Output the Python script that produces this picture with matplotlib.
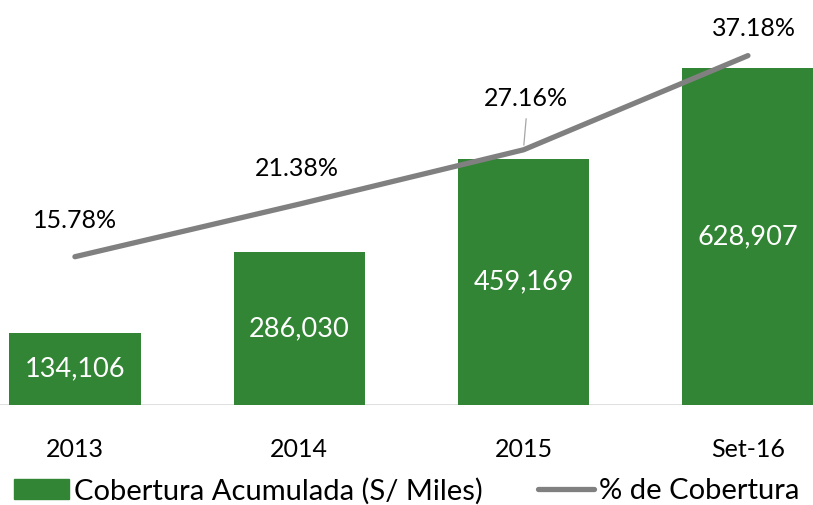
import matplotlib.pyplot as plt
import numpy as np

plt.rcParams['font.family'] = ['Lato', 'DejaVu Sans']

years = ['2013', '2014', '2015', 'Set-16']
cobertura = [134106, 286030, 459169, 628907]  # S/ miles
pct_cobertura = [15.78, 21.38, 27.16, 37.18]

green = '#328534'
grey = '#808080'

fig = plt.figure(figsize=(8.13, 5.05), dpi=100)
ax = fig.add_axes([0, 100 / 505, 1, 405 / 505])
ax2 = ax.twinx()

x = np.arange(len(years))
bars = ax.bar(x, cobertura, width=0.585, color=green, zorder=2)
line, = ax2.plot(x, pct_cobertura, color=grey, lw=3.8, solid_capstyle='round', zorder=3)

ax.set_xlim(-0.334, 3.29)
ax.set_ylim(0, 755700)
ax2.set_ylim(0, 43.1)

# values inside the bars
for bar, value in zip(bars, cobertura):
    ax.text(bar.get_x() + bar.get_width() / 2, value / 2, f'{value:,}',
            ha='center', va='center', color='white', fontsize=19.5)

# percentage labels above the line
offsets = [(0, 18), (-2, 17), (2, 29), (4, 11.5)]
for i, (pct, off) in enumerate(zip(pct_cobertura, offsets)):
    ax2.annotate(f'{pct:.2f}%', (x[i], pct), xytext=off, textcoords='offset points',
                 ha='center', va='bottom', fontsize=18, color='black')
# leader line for the 2015 label
ax2.annotate('', (x[2], pct_cobertura[2] + 0.2), xytext=(2, 23), textcoords='offset points',
             arrowprops=dict(arrowstyle='-', color='#a6a6a6', lw=0.9))

for a in (ax, ax2):
    for s in a.spines.values():
        s.set_visible(False)
    a.set_yticks([])
ax.axhline(0, color='#d9d9d9', lw=1.2, zorder=1)

ax.set_xticks(x)
ax.set_xticklabels(years, fontsize=18)
ax.tick_params(axis='x', length=0, pad=24)

handles = [plt.Rectangle((0, 0), 1, 1, color=green), line]
fig.legend(handles, ['Cobertura Acumulada (S/ Miles)', '% de Cobertura'],
           loc='center', bbox_to_anchor=(0.5, 1 - 491 / 505), ncol=2, frameon=False,
           fontsize=21, handlelength=1.9, handletextpad=0.17, columnspacing=1.9,
           borderaxespad=0, borderpad=0)

fig.savefig('out.png', dpi=100)
